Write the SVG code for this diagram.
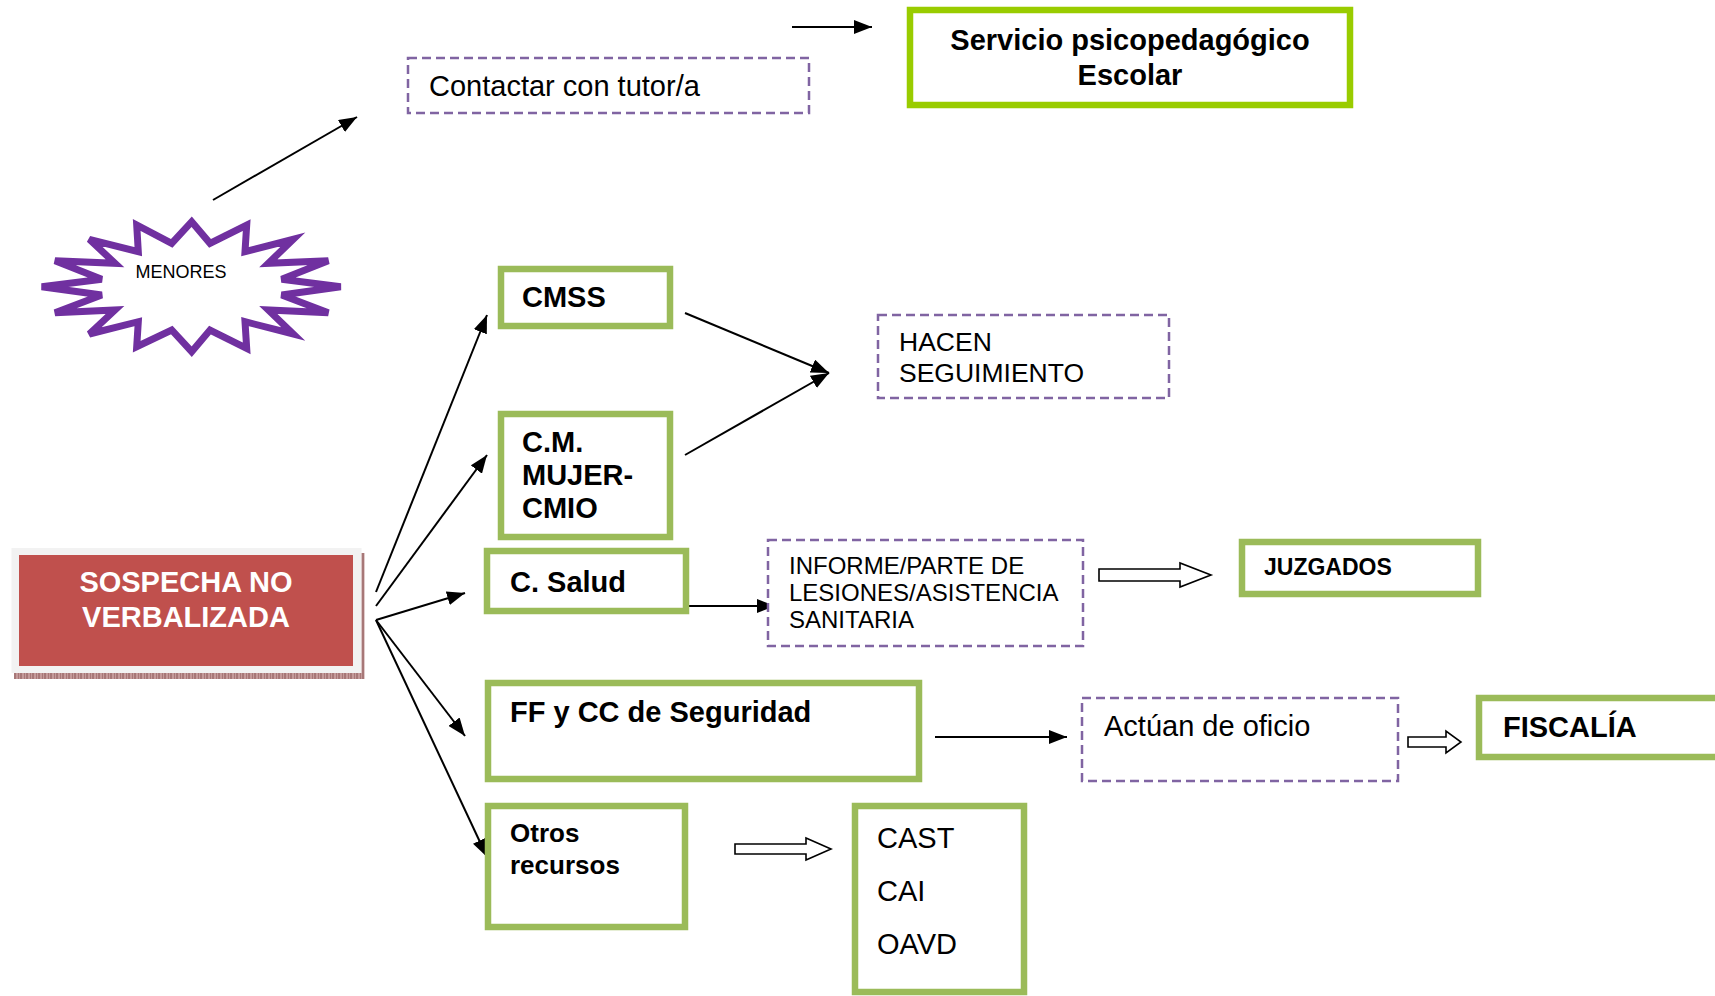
<svg xmlns="http://www.w3.org/2000/svg" width="1715" height="996" viewBox="0 0 1715 996">
<style>
  text { font-family: "Liberation Sans", Arial, sans-serif; fill: #000; }
  .b { font-weight: bold; }
  .gbox { fill: #fff; stroke: #9BBB59; stroke-width: 6.5; }
  .dbox { fill: #fff; stroke: #8064A2; stroke-width: 2.5; stroke-dasharray: 9 5; }
  .con { stroke: #000; stroke-width: 2; fill: none; marker-end: url(#ah); }
  .hollow { fill: #fff; stroke: #000; stroke-width: 1.6; stroke-linejoin: miter; }
</style>
<defs>
  <marker id="ah" markerUnits="userSpaceOnUse" markerWidth="18" markerHeight="14" refX="18" refY="7" orient="auto">
    <path d="M0,0 L18,7 L0,14 z" fill="#000"/>
  </marker>
  <pattern id="shadowPat" width="6" height="6" patternUnits="userSpaceOnUse">
    <rect width="6" height="6" fill="#C49A9A"/>
    <path d="M0,0 L0,6 M3,0 L3,6" stroke="#8A5555" stroke-width="1"/>
  </pattern>
</defs>
<rect width="1715" height="996" fill="#fff"/>

<g id="connectors">
  <line class="con" x1="213" y1="200" x2="357" y2="117"/>
  <line class="con" x1="792" y1="27" x2="872" y2="27"/>
  <line class="con" x1="376" y1="592" x2="487" y2="315"/>
  <line class="con" x1="376" y1="606" x2="487" y2="455"/>
  <line class="con" x1="376" y1="620" x2="465" y2="593"/>
  <line class="con" x1="376" y1="620" x2="465" y2="736"/>
  <line class="con" x1="376" y1="620" x2="487" y2="857"/>
  <line class="con" x1="685" y1="313" x2="829" y2="373"/>
  <line class="con" x1="685" y1="455" x2="829" y2="373"/>
  <line class="con" x1="686" y1="606" x2="775" y2="606"/>
  <line class="con" x1="935" y1="737" x2="1067" y2="737"/>
  <polygon class="hollow" points="735,844 806,844 806,838 831,849 806,860 806,854 735,854"/>
  <polygon class="hollow" points="1099,569 1180,569 1180,563 1211,575 1180,587 1180,581 1099,581"/>
  <polygon class="hollow" points="1408,737 1446,737 1446,731 1461,742 1446,753 1446,747 1408,747"/>
</g>

<g id="menores">
  <polygon points="191.7,221.7 210,243.3 246.7,225 245,251.7 293.3,239.3 268.3,263.3 328.3,260.7 281.7,279.3 340.7,286.7 281.7,295 328.3,312.7 268.3,310 293.3,334 245,321.7 246.7,348.3 210,330 191.7,351.7 171.7,330 136.7,346.7 138.3,321.7 89.3,334 115,310 55,312.7 101.7,295 41.7,286.7 101.7,279.3 55,260.7 115,263.3 89.3,239.3 138.3,251.7 136.7,225 171.7,243.3" fill="#fff" stroke="#7030A0" stroke-width="7"/>
  <text x="181" y="278" font-size="18" text-anchor="middle">MENORES</text>
</g>

<g id="sospecha">
  <rect x="14" y="673" width="350" height="6" fill="url(#shadowPat)"/>
  <rect x="360" y="553" width="4.5" height="126" fill="url(#shadowPat)"/>
  <rect x="11.5" y="548" width="350" height="125" fill="#F2F2F2"/>
  <rect x="19" y="555" width="334" height="111" fill="#C0504D"/>
  <text class="b" x="186" y="592" font-size="29" text-anchor="middle" style="fill:#fff">SOSPECHA NO</text>
  <text class="b" x="186" y="627" font-size="29" text-anchor="middle" style="fill:#fff">VERBALIZADA</text>
</g>

<g id="contactar">
  <rect class="dbox" x="408" y="58" width="401" height="55"/>
  <text x="429" y="96" font-size="29">Contactar con tutor/a</text>
</g>

<g id="servicio">
  <rect x="910" y="10" width="440" height="95" fill="#fff" stroke="#99CC00" stroke-width="6.5"/>
  <text class="b" x="1130" y="50" font-size="29" text-anchor="middle">Servicio psicopedagógico</text>
  <text class="b" x="1130" y="85" font-size="29" text-anchor="middle">Escolar</text>
</g>

<g id="cmss">
  <rect class="gbox" x="501" y="269" width="169" height="57"/>
  <text class="b" x="522" y="307" font-size="29">CMSS</text>
</g>

<g id="mujer">
  <rect class="gbox" x="501" y="414" width="169" height="123"/>
  <text class="b" x="522" y="452" font-size="29">C.M.</text>
  <text class="b" x="522" y="485" font-size="29">MUJER-</text>
  <text class="b" x="522" y="518" font-size="29">CMIO</text>
</g>

<g id="salud">
  <rect class="gbox" x="487" y="551" width="199" height="60"/>
  <text class="b" x="510" y="592" font-size="29">C. Salud</text>
</g>

<g id="ffcc">
  <rect class="gbox" x="488" y="683" width="431" height="96"/>
  <text class="b" x="510" y="722" font-size="29">FF y CC de Seguridad</text>
</g>

<g id="otros">
  <rect class="gbox" x="488" y="806" width="197" height="121"/>
  <text class="b" x="510" y="842" font-size="26">Otros</text>
  <text class="b" x="510" y="874" font-size="26">recursos</text>
</g>

<g id="cast">
  <rect class="gbox" x="855" y="806" width="169" height="186"/>
  <text x="877" y="848" font-size="29">CAST</text>
  <text x="877" y="901" font-size="29">CAI</text>
  <text x="877" y="954" font-size="29">OAVD</text>
</g>

<g id="hacen">
  <rect class="dbox" x="878" y="315" width="291" height="83"/>
  <text x="899" y="351" font-size="26.5">HACEN</text>
  <text x="899" y="382" font-size="26.5">SEGUIMIENTO</text>
</g>

<g id="informe">
  <rect class="dbox" x="768" y="540" width="315" height="106"/>
  <text x="789" y="574" font-size="24">INFORME/PARTE DE</text>
  <text x="789" y="601" font-size="24">LESIONES/ASISTENCIA</text>
  <text x="789" y="628" font-size="24">SANITARIA</text>
</g>

<g id="juzgados">
  <rect class="gbox" x="1242" y="542" width="236" height="52"/>
  <text class="b" x="1264" y="575" font-size="23">JUZGADOS</text>
</g>

<g id="actuan">
  <rect class="dbox" x="1082" y="698" width="316" height="83"/>
  <text x="1104" y="736" font-size="29">Actúan de oficio</text>
</g>

<g id="fiscalia">
  <rect class="gbox" x="1479" y="698" width="245" height="59"/>
  <text class="b" x="1503" y="737" font-size="29">FISCALÍA</text>
</g>
</svg>
